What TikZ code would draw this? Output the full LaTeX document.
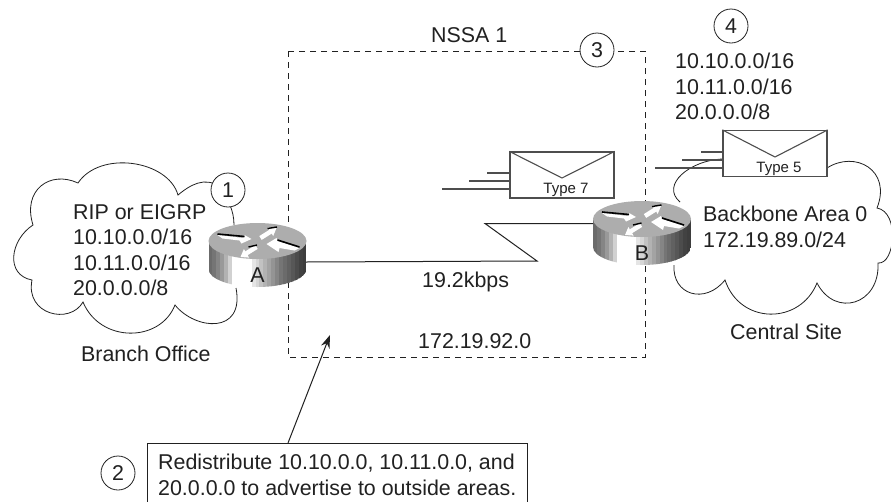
\documentclass[tikz,border=0pt]{standalone}
\usepackage{fontspec}
\setmainfont{Liberation Sans}
\usetikzlibrary{arrows.meta}
\definecolor{ink}{gray}{0.13}
\definecolor{rtop}{gray}{0.68}
\newcommand{\txtbig}{\fontsize{21.4}{25.5}\selectfont}
\newcommand{\routerpic}[3]{%
  \begin{scope}[shift={(#1,#2)}]
    \begin{scope}
      \clip (-49,0) -- (-49,28) arc[start angle=180,end angle=0,x radius=49,y radius=18] -- (49,0) -- cycle;
      \foreach \i/\g in {0/42,1/46,2/52,3/60,4/70,5/82,6/100,7/100,8/100,9/100,10/100,11/90,12/84,13/76,14/70,15/64,16/58,17/52,18/46,19/42,20/38,21/34,22/30,23/26,24/24}{
        \pgfmathtruncatemacro{\kk}{100-\g}
        \fill[black!\kk] ({-49+\i*3.92},0) rectangle ({-49+\i*3.92+4.1},48);
      }
    \end{scope}
    \fill[rtop] (0,0) ellipse[x radius=49,y radius=18];
    \fill[white] (-40,-6) -- (-14,-3) -- (-13,-6) -- (-6,-2) -- (-16,2.5) -- (-18,-0.5) -- (-35,-2.5) -- cycle;
    \fill[white] (42,7) -- (37,9.5) -- (22,7) -- (21,11) -- (9,3) -- (19,-3) -- (20,0) -- cycle;
    \fill[white] (19,-13) -- (15.7,-5) -- (14.2,-7.4) -- (4.2,-1.1) -- (1.8,-4.9) -- (11.8,-11.2) -- (10.3,-13.6) -- cycle;
    \fill[white] (-17,16) -- (-13.6,8) -- (-12.2,10.4) -- (-2.2,4.1) -- (0.2,7.9) -- (-9.9,14.2) -- (-8.4,16.6) -- cycle;
    \draw[black,line width=1.6pt] (-40,-7) -- (-13,-4.5);
    \draw[black,line width=1.6pt] (20,-1) -- (42,6);
    \draw[black,line width=1.4pt] (10,-12.5) -- (19.5,-14);
    \draw[black,line width=1.4pt] (-9,6) -- (-0.5,4);
    \node[font=\txtbig,text=ink,inner sep=0pt,anchor=base] at (0,41.5) {#3};
  \end{scope}}
\tikzset{
  line/.style={draw=ink,line width=1pt},
  cloud/.style={draw=ink,line width=0.8pt},
  bigtext/.style={font=\txtbig,text=ink,inner sep=0pt,anchor=base west},
  block/.style={font=\txtbig,text=ink,inner sep=0pt,align=left,anchor=north west},
  num/.style={circle,draw=ink,line width=0.8pt,fill=white,minimum size=34pt,inner sep=0pt,font=\txtbig,text=ink},
  envbox/.style={rectangle,draw=ink!80,fill=white,line width=1.2pt,minimum width=104pt,minimum height=46pt,inner sep=0pt},
  speed/.style={draw=ink!80,line width=1.1pt},
}
\begin{document}
\begin{tikzpicture}[x=1pt,y=-1pt]
\useasboundingbox (0,0) rectangle (891,501);
\fill[white] (0,0) rectangle (891,501);
% NSSA area
\draw[ink,line width=0.9pt,dash pattern=on 6pt off 5pt] (288,51) rectangle (645,357);
\node[bigtext] (nssa) at (431,42) {NSSA 1};
\node[bigtext] (net) at (418,348) {172.19.92.0};
% left cloud
\draw[cloud] (234,225) .. controls (234,210) and (228,200) .. (220,187)
  .. controls (205,176) and (190,185) .. (178,195)
  .. controls (168,160) and (100,150) .. (78,183)
  .. controls (50,170) and (22,190) .. (33,225)
  .. controls (10,240) and (5,275) .. (32,280)
  .. controls (25,315) and (70,325) .. (83,302)
  .. controls (100,343) and (160,343) .. (175,305)
  .. controls (195,330) and (245,335) .. (236,288);
% right cloud
\draw[cloud] (723,159) .. controls (690,160) and (660,185) .. (680,202);
\draw[cloud] (674,265) .. controls (672,295) and (705,305) .. (725,280)
  .. controls (740,325) and (800,325) .. (817,283)
  .. controls (835,318) and (880,305) .. (878,263)
  .. controls (895,265) and (900,212) .. (877,208)
  .. controls (892,170) and (855,150) .. (827,168);
% connector and routers
\routerpic{257.5}{241}{A}
\routerpic{642}{219}{B}
\coordinate (ra) at (306,262);
\coordinate (rb) at (593,223.5);
\coordinate (z1) at (537,261);
\coordinate (z2) at (485,223.5);
\draw[line] (ra) -- (z1) -- (z2) -- (rb);
% envelopes
\node[envbox] (e7) at (562,175) {};
\draw[speed] (e7.north west) -- (562,178) -- (e7.north east);
\node[font=\fontsize{15}{18}\selectfont,text=ink,inner sep=0pt,anchor=base] (t7) at (566,193) {Type 7};
\coordinate (s71) at (487,173); \coordinate (s72) at (469,181); \coordinate (s73) at (442,189);
\draw[speed] (s71) -- (s71 -| e7.west);
\draw[speed] (s72) -- (s72 -| e7.west);
\draw[speed] (s73) -- (s73 -| e7.west);
\node[envbox] (e5) at (775,153.5) {};
\draw[speed] (e5.north west) -- (775,157) -- (e5.north east);
\node[font=\fontsize{15}{18}\selectfont,text=ink,inner sep=0pt,anchor=base] (t5) at (779,172) {Type 5};
\coordinate (s51) at (701,152); \coordinate (s52) at (682,160); \coordinate (s53) at (655,168);
\draw[speed] (s51) -- (s51 -| e5.west);
\draw[speed] (s52) -- (s52 -| e5.west);
\draw[speed] (s53) -- (s53 -| e5.west);
% labels
\node[block] (lbl1) at (73,204) {RIP or EIGRP\\10.10.0.0/16\\10.11.0.0/16\\20.0.0.0/8};
\node[bigtext] (bo) at (81,361) {Branch Office};
\node[bigtext] (spd) at (422,287) {19.2kbps};
\node[block] (lbl4) at (675,53) {10.10.0.0/16\\10.11.0.0/16\\20.0.0.0/8};
\node[block] (lbl5) at (703,206) {Backbone Area 0\\172.19.89.0/24};
\node[bigtext] (cs) at (730,339) {Central Site};
% numbers
\node[num] (n1) at (228,190) {1};
\node[num] (n2) at (118,473) {2};
\node[num] (n3) at (597,50) {3};
\node[num] (n4) at (731,26) {4};
% callout
\draw[ink,line width=0.9pt,fill=white] (147,505) -- (147,443) -- (527,443) -- (527,505);
\node[block] (call) at (158,454) {Redistribute 10.10.0.0, 10.11.0.0, and\\20.0.0.0 to advertise to outside areas.};
\coordinate (tip) at (330,335);
\coordinate (tail) at (288,443);
\draw[line,-{Stealth[length=13pt,width=9pt]}] (tail) -- (tip);
\end{tikzpicture}
\end{document}
